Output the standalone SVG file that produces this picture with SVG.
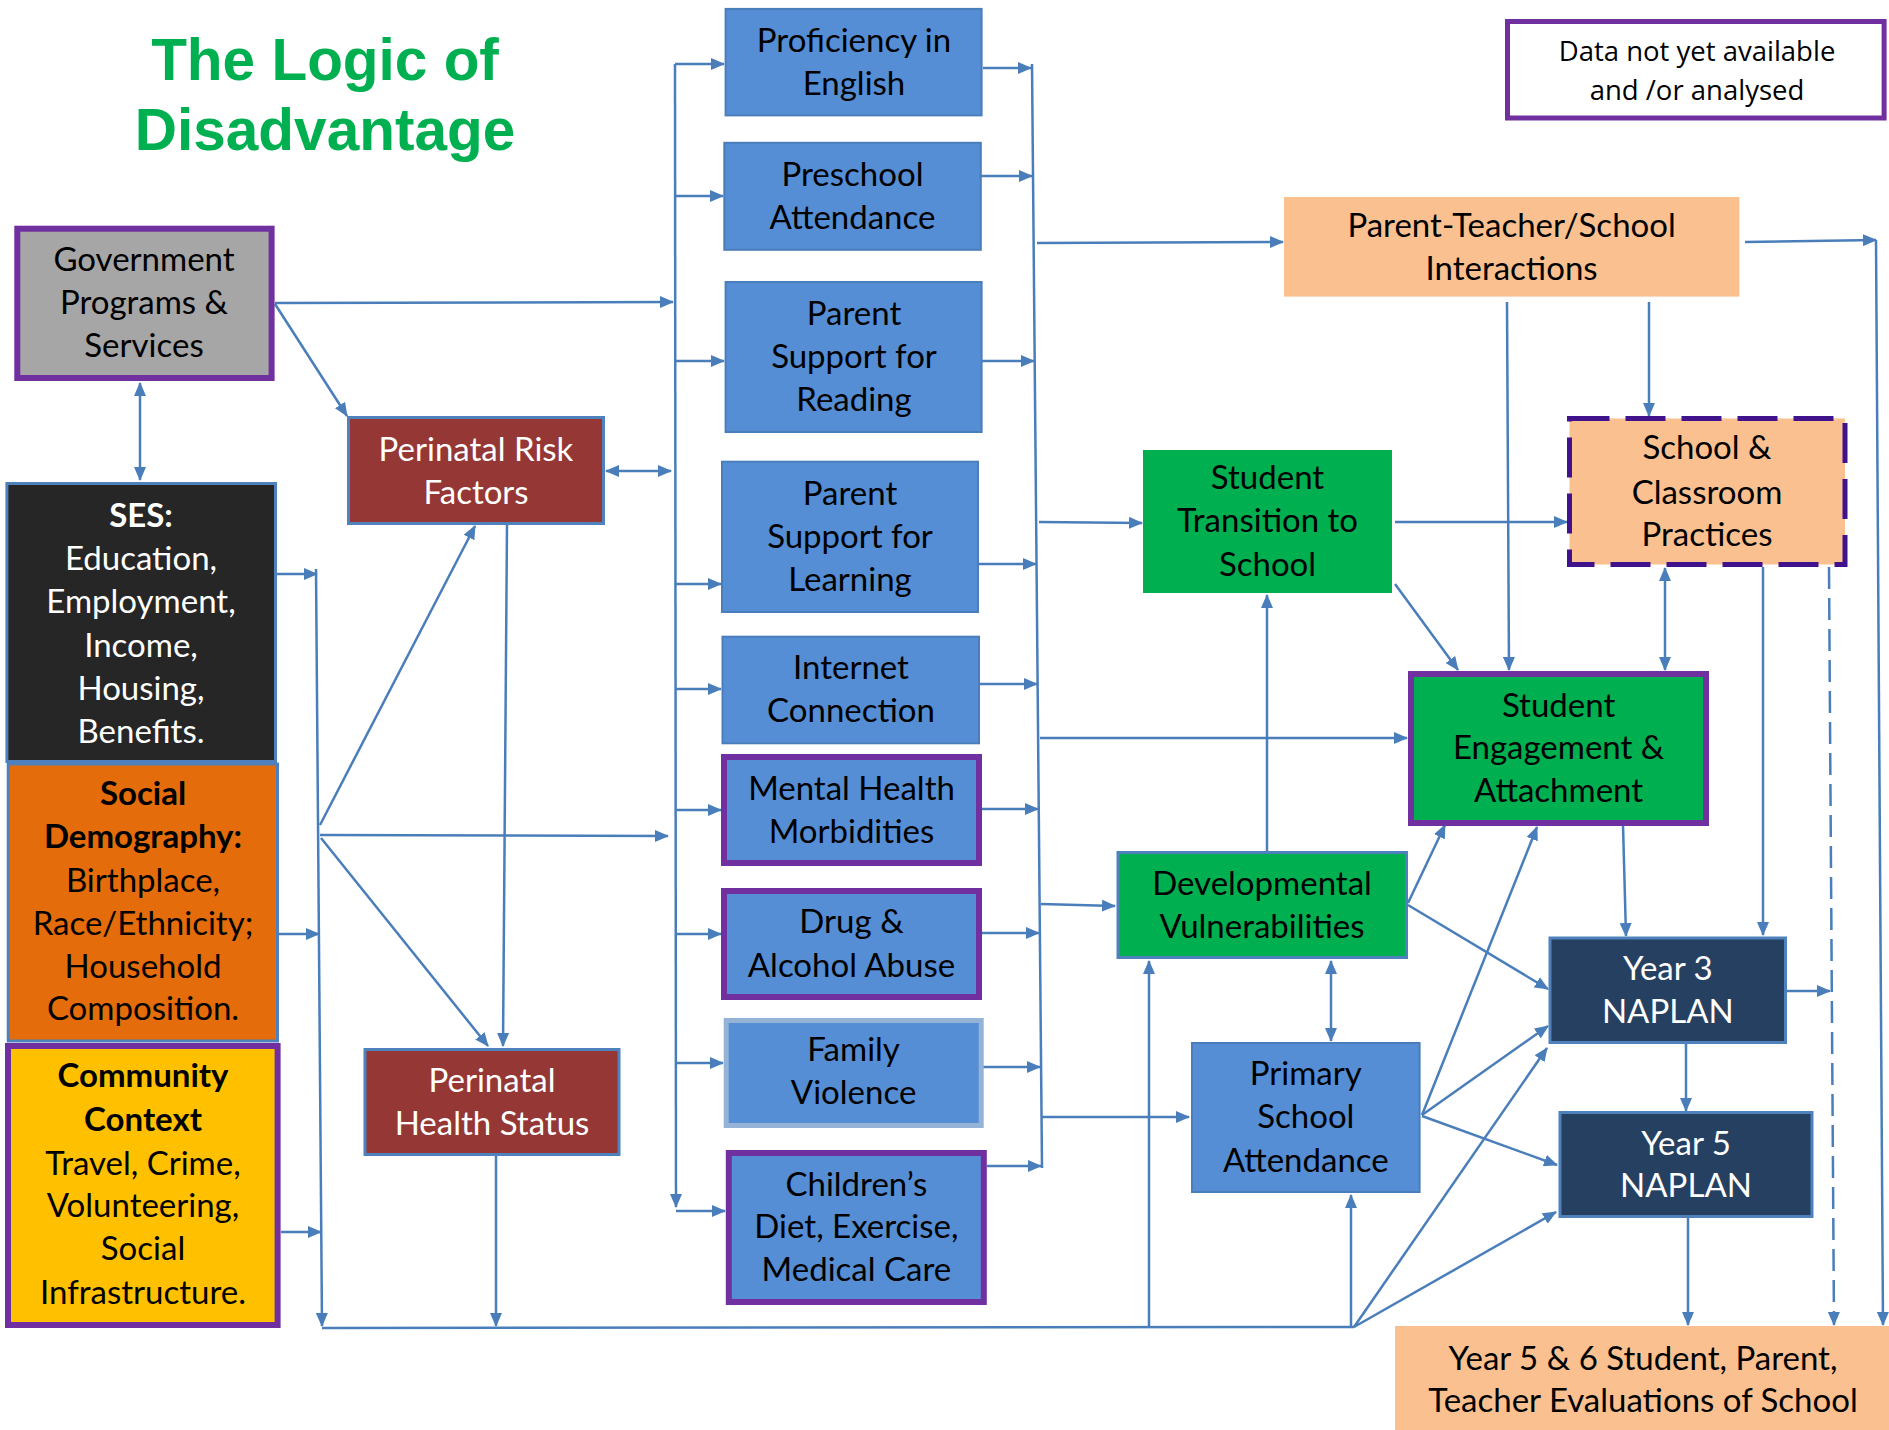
<svg xmlns="http://www.w3.org/2000/svg" width="1889" height="1430" viewBox="0 0 1889 1430">
<defs>
<marker id="ah" viewBox="0 0 14 12" refX="13" refY="6" markerWidth="14" markerHeight="12" markerUnits="userSpaceOnUse" orient="auto-start-reverse"><path d="M0,0 L14,6 L0,12 z" fill="#4A7EBB"/></marker>
</defs>
<style>
.t{font-family:Lato,"Liberation Sans",sans-serif;font-size:33px;text-anchor:middle;fill:#000}
.w{fill:#fff}
.b{font-weight:700}
.title{font-family:"Liberation Sans",Arial,sans-serif;font-weight:700;font-size:58.5px;fill:#00B050;text-anchor:middle}
.c{fill:none;stroke:#4A7EBB;stroke-width:2.5;marker-end:url(#ah)}
.n{fill:none;stroke:#4A7EBB;stroke-width:2.5}
.d{marker-start:url(#ah)}
.blue{fill:#558ED5;stroke:#4A7EBB;stroke-width:2}
.pur{stroke:#7030A0;stroke-width:6}
</style>
<rect width="1889" height="1430" fill="#fff"/>

<g id="title">
<text class="title" x="325" y="80">The Logic of</text>
<text class="title" x="325" y="150">Disadvantage</text>
</g>

<g id="connectors">
<path class="c d" d="M140,383 L140,480"/>
<path class="c" d="M275,303 L673,302"/>
<path class="c" d="M275,304 L347,416"/>
<path class="c d" d="M606,471 L671,471"/>
<path class="c" d="M277,574 L317,574"/>
<path class="c" d="M316,569 L322,1326"/>
<path class="c" d="M279,934 L319,934"/>
<path class="c" d="M281,1232 L321,1232"/>
<path class="c" d="M320,825 L475,526"/>
<path class="c" d="M320,835 L668,836"/>
<path class="c" d="M321,838 L488,1046"/>
<path class="c" d="M507,525 L503,1046"/>
<path class="c" d="M496,1156 L496,1326"/>
<path class="n" d="M322,1328 L1354,1327"/>

<path class="c" d="M675,64 L676,1207"/>
<path class="c" d="M675,64 L724,64"/>
<path class="c" d="M675,196 L723,196"/>
<path class="c" d="M675,361 L724,361"/>
<path class="c" d="M675,584 L721,584"/>
<path class="c" d="M675,689 L721,689"/>
<path class="c" d="M675,810 L721,810"/>
<path class="c" d="M675,934 L721,934"/>
<path class="c" d="M675,1063 L723,1063"/>
<path class="c" d="M676,1211 L725,1211"/>

<path class="c" d="M983,68 L1031,68"/>
<path class="c" d="M975,176 L1032,176"/>
<path class="c" d="M975,361 L1034,361"/>
<path class="c" d="M979,564 L1036,564"/>
<path class="c" d="M980,684 L1037,684"/>
<path class="c" d="M982,809 L1038,809"/>
<path class="c" d="M982,933 L1039,933"/>
<path class="c" d="M975,1067 L1040,1067"/>
<path class="c" d="M987,1166 L1041,1166"/>
<path class="n" d="M1032,64 L1042,1168"/>
<path class="c" d="M1037,243 L1283,242"/>
<path class="c" d="M1039,522 L1142,523"/>
<path class="c" d="M1040,738 L1407,738"/>
<path class="c" d="M1041,904 L1115,906"/>
<path class="c" d="M1042,1117 L1189,1117"/>

<path class="c" d="M1267,851 L1267,595"/>
<path class="c" d="M1149,1327 L1149,961"/>
<path class="c d" d="M1331,961 L1331,1041"/>
<path class="c" d="M1351,1327 L1351,1195"/>
<path class="c" d="M1354,1327 L1547,1048"/>
<path class="c" d="M1354,1327 L1556,1212"/>
<path class="c" d="M1422,1115 L1537,827"/>
<path class="c" d="M1422,1115 L1548,1026"/>
<path class="c" d="M1422,1116 L1557,1165"/>
<path class="c" d="M1408,903 L1445,825"/>
<path class="c" d="M1408,905 L1548,989"/>
<path class="c" d="M1395,584 L1458,670"/>
<path class="c" d="M1395,522 L1567,522"/>
<path class="c" d="M1507,302 L1509,670"/>
<path class="c" d="M1649,302 L1649,416"/>
<path class="c d" d="M1665,568 L1665,670"/>
<path class="c" d="M1763,567 L1763,935"/>
<path class="c" d="M1623,825 L1626,936"/>
<path class="c" d="M1686,1044 L1686,1111"/>
<path class="c" d="M1688,1218 L1688,1325"/>
<path class="c" d="M1787,991 L1830,991"/>
<path class="c" d="M1829,567 L1834,1325" stroke-dasharray="22 9"/>
<path class="c" d="M1745,242 L1876,240"/>
<path class="c" d="M1876,240 L1883,1325"/>
</g>

<g id="data-legend">
<rect x="1507.5" y="21.5" width="376.6" height="96.5" fill="#fff" stroke="#7030A0" stroke-width="5"/>
<text style="font-family:'Open Sans','Noto Sans',sans-serif;font-size:27.5px;text-anchor:middle"><tspan x="1697" y="61">Data not yet available</tspan><tspan x="1697" y="100">and /or analysed</tspan></text>
</g>

<g id="gov">
<rect class="pur" x="17.3" y="228.7" width="254.3" height="149.3" fill="#A6A6A6"/>
<text class="t"><tspan x="144" y="271">Government</tspan><tspan x="144" y="314">Programs &amp;</tspan><tspan x="144" y="357">Services</tspan></text>
</g>

<g id="ses">
<rect x="6.9" y="483.5" width="268.6" height="278" fill="#262626" stroke="#4F81BD" stroke-width="3"/>
<text class="t w"><tspan class="b" x="141" y="527">SES:</tspan><tspan x="141" y="570">Education,</tspan><tspan x="141" y="613">Employment,</tspan><tspan x="141" y="657">Income,</tspan><tspan x="141" y="700">Housing,</tspan><tspan x="141" y="743">Benefits.</tspan></text>
</g>

<g id="socdem">
<rect x="8.2" y="764" width="269.3" height="277" fill="#E46C0A" stroke="#4F81BD" stroke-width="3"/>
<text class="t"><tspan class="b" x="143" y="805">Social</tspan><tspan class="b" x="143" y="848">Demography:</tspan><tspan x="143" y="892">Birthplace,</tspan><tspan x="143" y="935">Race/Ethnicity;</tspan><tspan x="143" y="978">Household</tspan><tspan x="143" y="1020">Composition.</tspan></text>
</g>

<g id="community">
<rect class="pur" x="8" y="1046" width="269.6" height="279" fill="#FFC000"/>
<text class="t"><tspan class="b" x="143" y="1087">Community</tspan><tspan class="b" x="143" y="1131">Context</tspan><tspan x="143" y="1175">Travel, Crime,</tspan><tspan x="143" y="1217">Volunteering,</tspan><tspan x="143" y="1260">Social</tspan><tspan x="143" y="1304">Infrastructure.</tspan></text>
</g>

<g id="prf">
<rect x="348.5" y="417.5" width="255" height="106" fill="#953735" stroke="#4F81BD" stroke-width="3"/>
<text class="t w"><tspan x="476" y="461">Perinatal Risk</tspan><tspan x="476" y="504">Factors</tspan></text>
</g>

<g id="phs">
<rect x="365" y="1049.5" width="254" height="105" fill="#953735" stroke="#4F81BD" stroke-width="3"/>
<text class="t w"><tspan x="492" y="1092">Perinatal</tspan><tspan x="492" y="1135">Health Status</tspan></text>
</g>

<g id="proficiency">
<rect class="blue" x="725.6" y="8.9" width="256" height="106.5"/>
<text class="t"><tspan x="854" y="52">Proficiency in</tspan><tspan x="854" y="95">English</tspan></text>
</g>
<g id="preschool">
<rect class="blue" x="724.3" y="142.8" width="256.5" height="107"/>
<text class="t"><tspan x="852.5" y="186">Preschool</tspan><tspan x="852.5" y="229">Attendance</tspan></text>
</g>
<g id="psr">
<rect class="blue" x="725.6" y="282" width="256" height="150"/>
<text class="t"><tspan x="854" y="325">Parent</tspan><tspan x="854" y="368">Support for</tspan><tspan x="854" y="411">Reading</tspan></text>
</g>
<g id="psl">
<rect class="blue" x="722" y="461.7" width="256" height="150.3"/>
<text class="t"><tspan x="850" y="505">Parent</tspan><tspan x="850" y="548">Support for</tspan><tspan x="850" y="591">Learning</tspan></text>
</g>
<g id="internet">
<rect class="blue" x="722.5" y="636.7" width="256.5" height="106.6"/>
<text class="t"><tspan x="851" y="679">Internet</tspan><tspan x="851" y="722">Connection</tspan></text>
</g>
<g id="mental">
<rect class="blue pur" x="724" y="757" width="255" height="106"/>
<text class="t"><tspan x="851.5" y="800">Mental Health</tspan><tspan x="851.5" y="843">Morbidities</tspan></text>
</g>
<g id="drug">
<rect class="blue pur" x="724" y="891" width="255" height="106"/>
<text class="t"><tspan x="851.5" y="933">Drug &amp;</tspan><tspan x="851.5" y="977">Alcohol Abuse</tspan></text>
</g>
<g id="family">
<rect x="726.2" y="1020.5" width="255" height="105" fill="#558ED5" stroke="#95B3D7" stroke-width="5"/>
<text class="t"><tspan x="853.6" y="1061">Family</tspan><tspan x="853.6" y="1104">Violence</tspan></text>
</g>
<g id="childrens">
<rect class="blue pur" x="728.8" y="1153" width="255" height="149"/>
<text class="t"><tspan x="856.4" y="1196">Children’s</tspan><tspan x="856.4" y="1238">Diet, Exercise,</tspan><tspan x="856.4" y="1281">Medical Care</tspan></text>
</g>

<g id="parent-teacher">
<rect x="1284" y="197" width="455.4" height="99.6" fill="#FAC090"/>
<text class="t"><tspan x="1511.6" y="237">Parent-Teacher/School</tspan><tspan x="1511.6" y="280">Interactions</tspan></text>
</g>

<g id="transition">
<rect x="1143" y="450" width="249" height="143" fill="#00B050"/>
<text class="t"><tspan x="1267.5" y="489">Student</tspan><tspan x="1267.5" y="532">Transition to</tspan><tspan x="1267.5" y="576">School</tspan></text>
</g>

<g id="school-practices">
<rect x="1569.5" y="418.5" width="275.5" height="146" fill="#FAC090" stroke="#40128C" stroke-width="5" stroke-dasharray="40 16"/>
<text class="t"><tspan x="1707" y="459">School &amp;</tspan><tspan x="1707" y="504">Classroom</tspan><tspan x="1707" y="546">Practices</tspan></text>
</g>

<g id="engagement">
<rect class="pur" x="1411" y="674" width="295" height="149" fill="#00B050"/>
<text class="t"><tspan x="1558.6" y="717">Student</tspan><tspan x="1558.6" y="759">Engagement &amp;</tspan><tspan x="1558.6" y="802">Attachment</tspan></text>
</g>

<g id="developmental">
<rect x="1118" y="852.5" width="288.5" height="105" fill="#00B050" stroke="#4F81BD" stroke-width="3"/>
<text class="t"><tspan x="1262" y="895">Developmental</tspan><tspan x="1262" y="938">Vulnerabilities</tspan></text>
</g>

<g id="primary">
<rect class="blue" x="1192" y="1043" width="227.6" height="149"/>
<text class="t"><tspan x="1305.8" y="1085">Primary</tspan><tspan x="1305.8" y="1128">School</tspan><tspan x="1305.8" y="1172">Attendance</tspan></text>
</g>

<g id="year3">
<rect x="1550" y="938" width="235.5" height="104.5" fill="#254061" stroke="#4F81BD" stroke-width="3"/>
<text class="t w"><tspan x="1667.8" y="980">Year 3</tspan><tspan x="1667.8" y="1023">NAPLAN</tspan></text>
</g>

<g id="year5">
<rect x="1560" y="1112.5" width="252" height="104" fill="#254061" stroke="#4F81BD" stroke-width="3"/>
<text class="t w"><tspan x="1686" y="1155">Year 5</tspan><tspan x="1686" y="1197">NAPLAN</tspan></text>
</g>

<g id="evaluations">
<rect x="1395" y="1326" width="494" height="104" fill="#FAC090"/>
<text class="t"><tspan x="1643" y="1370">Year 5 &amp; 6 Student, Parent,</tspan><tspan x="1643" y="1412">Teacher Evaluations of School</tspan></text>
</g>
</svg>
